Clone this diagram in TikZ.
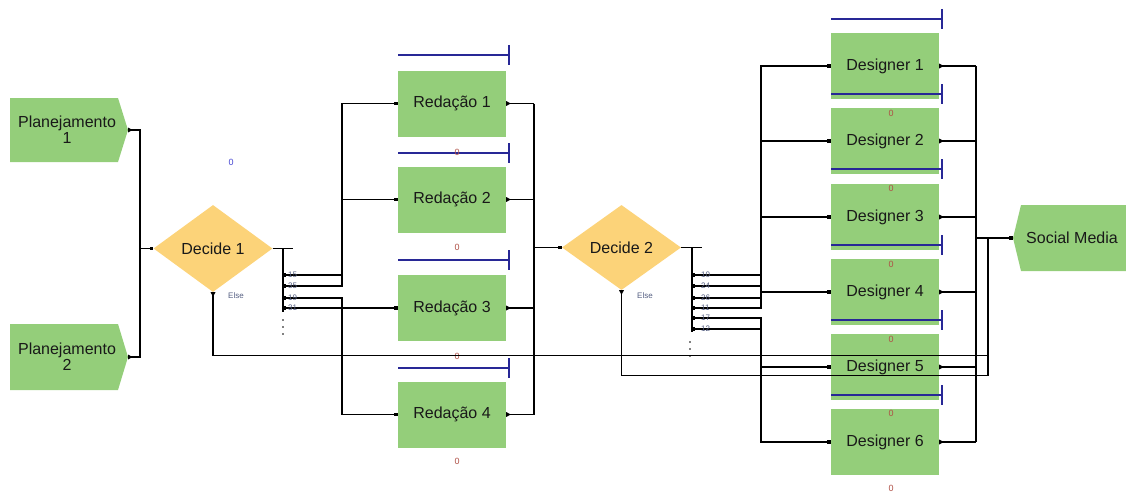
\documentclass[tikz,border=0pt]{standalone}
\usepackage{fontspec}
\setmainfont{Liberation Sans}
\usetikzlibrary{shapes.geometric}
\definecolor{boxgreen}{RGB}{148,206,122}
\definecolor{dgold}{RGB}{252,211,121}
\definecolor{qblue}{RGB}{40,40,150}
\definecolor{zcol}{RGB}{175,80,70}
\definecolor{lblgray}{RGB}{85,95,130}
\definecolor{cblue}{RGB}{70,70,210}
\definecolor{txtc}{RGB}{25,25,25}
\begin{document}
\begin{tikzpicture}[x=1pt,y=-1pt,
  txt/.style={text=txtc, inner sep=0pt, font=\fontsize{16}{16}\selectfont},
  proc/.style={fill=boxgreen, minimum width=108pt, minimum height=66pt, inner sep=0pt, text=txtc, font=\fontsize{16}{16}\selectfont},
  dec/.style={diamond, fill=dgold, minimum width=119pt, minimum height=87pt, inner sep=0pt, text=txtc, font=\fontsize{16}{16}\selectfont},
  conn/.style={line width=1.1pt, black},
  qbar/.style={qblue, line width=1.2pt},
  zlab/.style={text=zcol, font=\fontsize{9}{10}\selectfont, inner sep=0pt},
  blab/.style={text=lblgray, font=\fontsize{8}{9}\selectfont, inner sep=0pt, anchor=west},
  inm/.style={fill=black, inner sep=0pt, minimum size=3.5pt},
  outm/.pic={\fill (0,-2.5) -- (4.5,0) -- (0,2.5) -- cycle;},
  downm/.pic={\fill (-2.5,0) -- (0,4.5) -- (2.5,0) -- cycle;},
]
\useasboundingbox (0,0) rectangle (1126,495);

% ---------- Planejamento shapes ----------
\fill[boxgreen] (10,98) -- (118,98) -- (128,130) -- (118,162) -- (10,162) -- cycle;
\node[txt, align=center] (p1) at (67,130) {Planejamento\\1};
\coordinate (p1out) at (128,130);
\fill[boxgreen] (10,324) -- (118,324) -- (128,357) -- (118,390) -- (10,390) -- cycle;
\node[txt, align=center] (p2) at (67,357) {Planejamento\\2};
\coordinate (p2out) at (128,357);

% ---------- Decides ----------
\node[dec] (d1) at (213,248.5) {Decide 1};
\node[dec, minimum height=85pt] (d2) at (621.5,247.5) {Decide 2};

% ---------- Redacao ----------
\foreach \i/\y in {1/103.5,2/199.5,3/308,4/414.5}{
  \node[proc] (r\i) at (452,\y) {Redação \i};
}
% ---------- Designers ----------
\foreach \i/\y in {1/66,2/141,3/217,4/292,5/367,6/442}{
  \node[proc] (g\i) at (885,\y) {Designer \i};
}

% ---------- Social Media ----------
\fill[boxgreen] (1021,205) -- (1126,205) -- (1126,271) -- (1021,271) -- (1013,238) -- cycle;
\node[txt] (sm) at (1072,238) {Social Media};
\coordinate (smin) at (1013,238);

% ---------- queue bars ----------
\foreach \y in {55,153,260,368}{
  \draw[qbar] (398,\y) -- (509,\y);
  \draw[qbar] (509,\y-10) -- (509,\y+10);
}
\foreach \y in {19,94,169,245,320,395}{
  \draw[qbar] (831,\y) -- (942,\y);
  \draw[qbar] (942,\y-10) -- (942,\y+10);
}

% ---------- counters ----------
\foreach \y in {152,247,356,461}{ \node[zlab] at (457,\y) {0}; }
\foreach \y in {113,188,264,339,413,488}{ \node[zlab] at (891,\y) {0}; }
\node[text=cblue, font=\fontsize{9}{10}\selectfont, inner sep=0pt] (c1) at (231,162) {0};

% ---------- inputs to Decide 1 ----------
\coordinate (j1) at (140,248.5);
\draw[conn] (p1out) -| (j1);
\draw[conn] (p2out) -| (j1);
\draw[conn] (j1) -- (d1.west);
\pic at (p1out) {outm};
\pic at (p2out) {outm};
\node[inm, anchor=east] at (d1.west) {};

% ---------- Decide 1 branches ----------
\coordinate (v1) at (283,248.5);
\draw[conn] (d1.east) -- (293,248.5);
\draw[conn] (v1) -- (283,312);
\foreach \lab/\y in {15/275,35/286,19/298,31/308}{
  \coordinate (b\lab) at (283,\y);
  \node[inm] at (284.5,\y) {};
}
\draw[conn] (b15) -- (342,275) |- (r1.west);
\draw[conn] (b35) -- (342,286) |- (r2.west);
\draw[conn] (b19) -- (342,298) |- (r4.west);
\draw[conn] (b31) -- (r3.west);
\foreach \lab/\y in {15/275,35/286,19/298,31/308}{
  \node[blab] at (288,\y) {\lab};
}
\foreach \y in {320,327,334}{ \fill (283,\y) circle (0.9pt); }
\foreach \i in {1,2,3,4}{ \node[inm, anchor=east] at (r\i.west) {}; }

% ---------- Redacao outputs to Decide 2 ----------
\coordinate (j2) at (534,247.5);
\foreach \i in {1,2,3,4}{
  \draw[conn] (r\i.east) -- (r\i.east -| j2);
  \pic at (r\i.east) {outm};
}
\draw[conn] (r1.east -| j2) -- (r4.east -| j2);
\draw[conn] (j2) -- (d2.west);
\node[inm, anchor=east] at (d2.west) {};

% ---------- Decide 2 branches ----------
\coordinate (v2) at (692,247.5);
\draw[conn] (d2.east) -- (702,247.5);
\draw[conn] (v2) -- (692,332);
\foreach \lab/\y in {10/275,24/286,26/298,11/308,17/318,12/329}{
  \coordinate (c\lab) at (692,\y);
  \node[inm] at (693.5,\y) {};
}
\draw[conn] (c10) -- (761,275) |- (g1.west);
\draw[conn] (c24) -- (761,286) |- (g2.west);
\draw[conn] (c26) -- (761,298) |- (g3.west);
\draw[conn] (c11) -- (761,308) |- (g4.west);
\draw[conn] (c17) -- (761,318) |- (g5.west);
\draw[conn] (c12) -- (761,329) |- (g6.west);
\foreach \lab/\y in {10/275,24/286,26/298,11/308,17/318,12/329}{
  \node[blab] at (701,\y) {\lab};
}
\foreach \y in {342,349,356}{ \fill (690,\y) circle (0.9pt); }
\foreach \i in {1,...,6}{ \node[inm, anchor=east] at (g\i.west) {}; }

% ---------- Designer outputs to Social Media ----------
\coordinate (jr) at (976,238);
\coordinate (je) at (988,238);
\foreach \i in {1,...,6}{
  \draw[conn] (g\i.east) -- (g\i.east -| jr);
  \pic at (g\i.east) {outm};
}
\draw[conn] (g1.east -| jr) -- (g6.east -| jr);
\draw[conn] (jr) -- (smin);
\node[inm, anchor=east] at (smin) {};

% ---------- Else paths ----------
\draw[conn] (d1.south) -- ++(0,63) -| (je);
\draw[conn] (d2.south) -- ++(0,85) -| (je);
\pic at (d1.south) {downm};
\pic at (d2.south) {downm};
\node[blab] (else1) at (228,296) {Else};
\node[blab] (else2) at (637,296) {Else};
\end{tikzpicture}
\end{document}
